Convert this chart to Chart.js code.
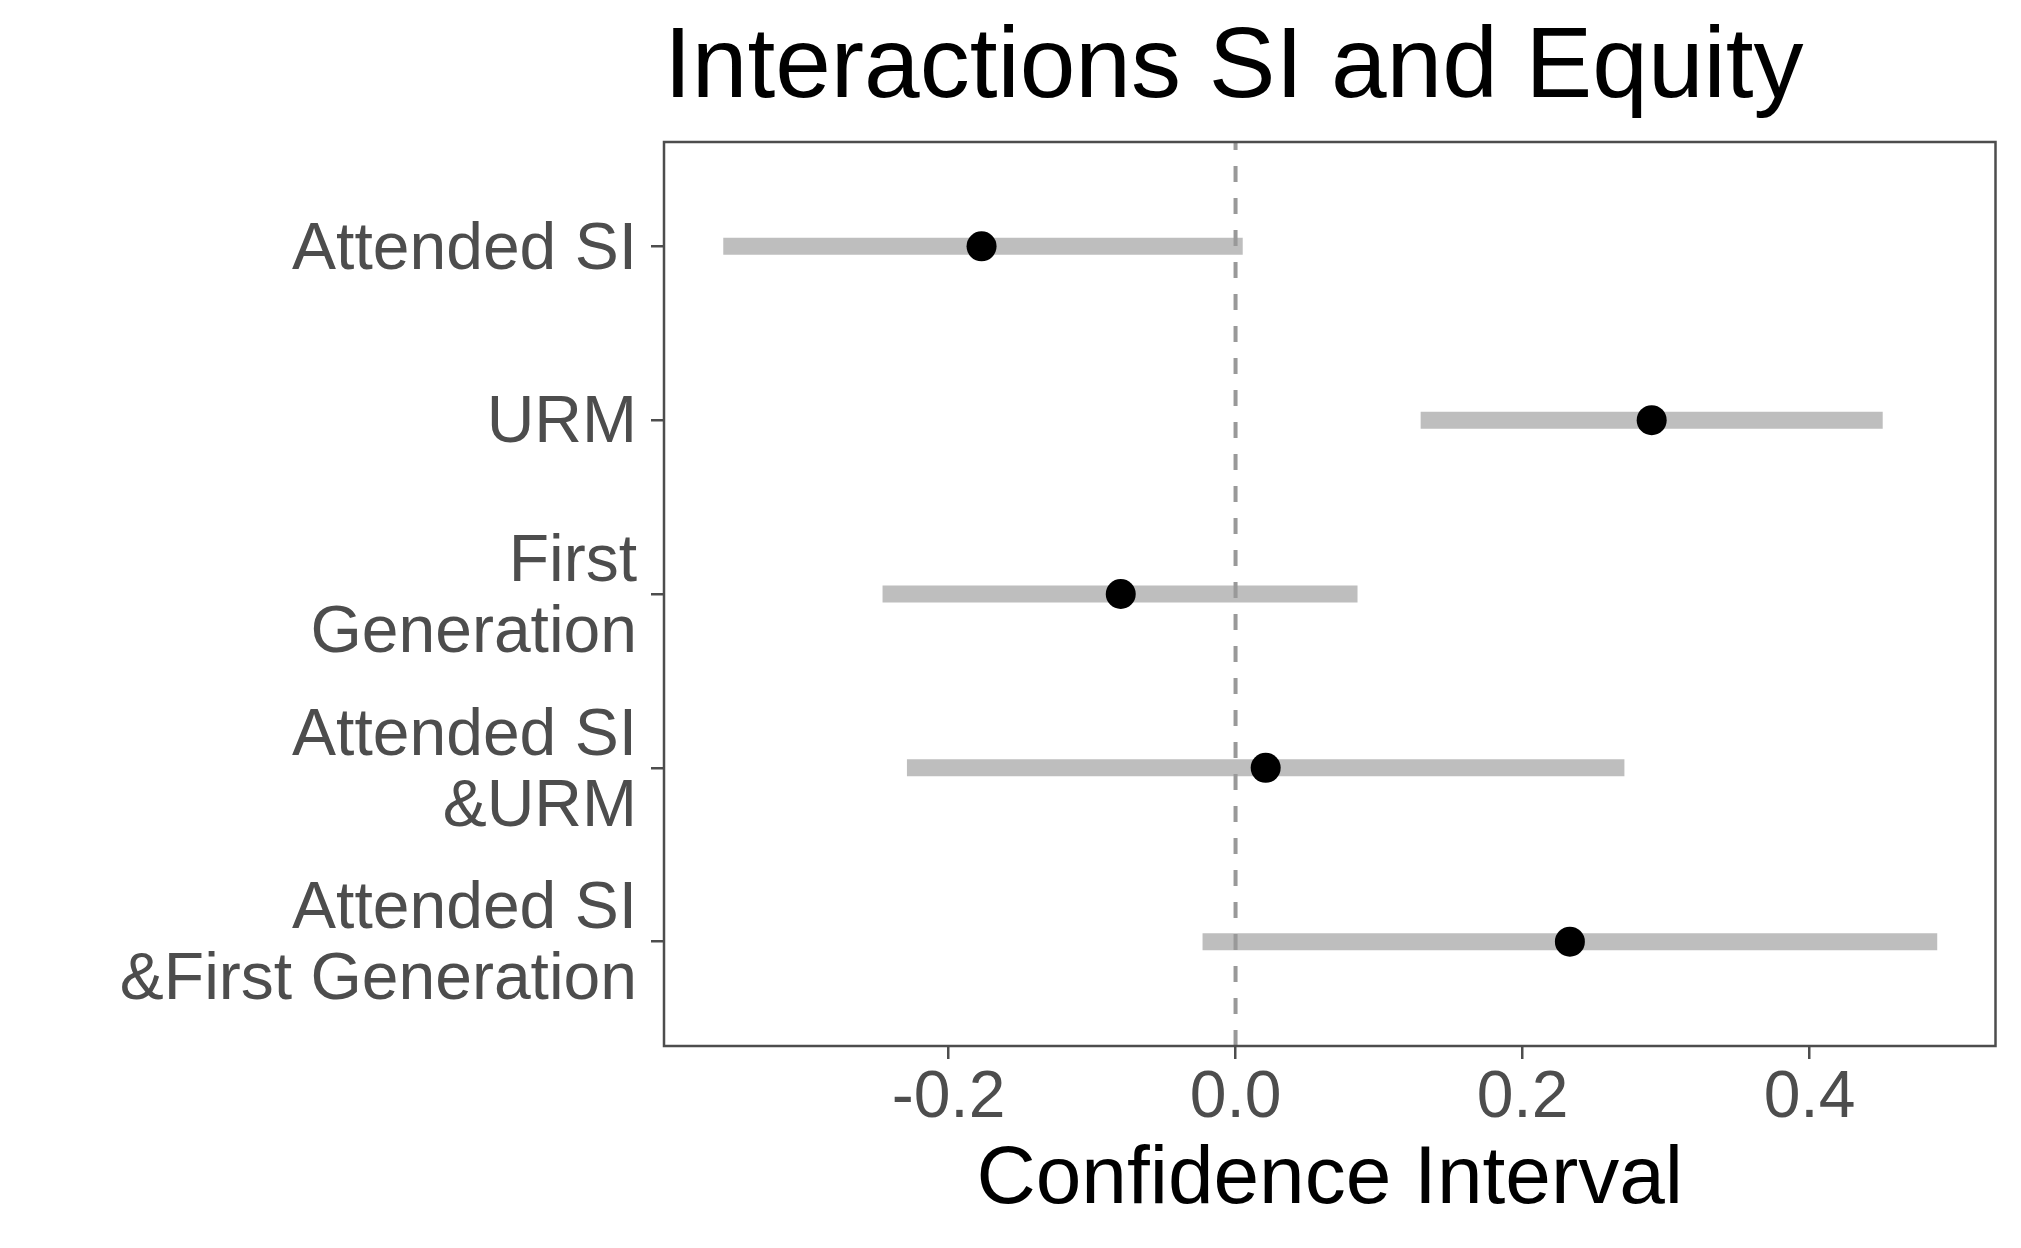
<!DOCTYPE html>
<html>
<head>
<meta charset="utf-8">
<script src="https://cdn.jsdelivr.net/npm/chart.js@4.4.0/dist/chart.umd.min.js"></script>
<style>
  html, body { margin: 0; padding: 0; background: #fff; }
  #wrap { width: 2021px; height: 1248px; }
</style>
</head>
<body>
<div id="wrap"><canvas id="ciChart" width="2021" height="1248"></canvas></div>
<script>
// values
const categories = [
    'Attended SI',
    'URM',
    ['First', 'Generation'],
    ['Attended SI', '&URM'],
    ['Attended SI', '&First Generation']
];
const estimate = [-0.177, 0.290, -0.080, 0.021, 0.233];
const lower = [-0.357, 0.129, -0.246, -0.229, -0.023];
const upper = [0.005, 0.451, 0.085, 0.271, 0.489];
const xTicks = [-0.2, 0.0, 0.2, 0.4];

Chart.defaults.font.family = "'Liberation Sans', Arial, sans-serif";

var datasets = [];
for (var i = 0; i < categories.length; i++) {
    datasets.push({
        type: 'line',
        data: [{ x: lower[i], y: i + 1 }, { x: upper[i], y: i + 1 }],
        borderColor: '#BEBEBE',
        borderWidth: 17,
        borderCapStyle: 'butt',
        pointRadius: 0,
        order: 2
    });
}
datasets.push({
    type: 'scatter',
    data: estimate.map((v, i) => ({ x: v, y: i + 1 })),
    backgroundColor: '#000000',
    borderWidth: 0,
    pointRadius: 15,
    order: 1
});

// dashed reference line at zero and the panel frame
const extras = {
    id: 'extras',
    afterDatasetsDraw(chart) {
        const ctx = chart.ctx;
        const area = chart.chartArea;
        const x0 = chart.scales.x.getPixelForValue(0);
        ctx.save();
        ctx.strokeStyle = '#999999';
        ctx.lineWidth = 4;
        ctx.setLineDash([16, 16]);
        ctx.lineDashOffset = 8;
        ctx.beginPath();
        ctx.moveTo(x0, area.top);
        ctx.lineTo(x0, area.bottom);
        ctx.stroke();
        ctx.restore();
    },
    afterDraw(chart) {
        const ctx = chart.ctx;
        const a = chart.chartArea;
        ctx.save();
        ctx.strokeStyle = '#4D4D4D';
        ctx.lineWidth = 2.5;
        ctx.strokeRect(a.left, a.top, a.right - a.left, a.bottom - a.top);
        ctx.restore();
    }
};

new Chart(document.getElementById('ciChart'), {
    type: 'line',
    data: { datasets: datasets },
    plugins: [extras],
    options: {
        responsive: false,
        animation: false,
        devicePixelRatio: 1,
        layout: { padding: { left: 0, right: 25.5, top: 0, bottom: 0 } },
        plugins: {
            legend: { display: false },
            tooltip: { enabled: false },
            title: {
                display: true,
                text: 'Interactions SI and Equity',
                align: 'start',
                fullSize: false,
                color: '#000000',
                font: { size: 100, weight: 'normal', lineHeight: 1.2 },
                padding: { top: 9, bottom: 13 }
            }
        },
        scales: {
            x: {
                type: 'linear',
                min: -0.3983,
                max: 0.5296,
                afterBuildTicks: (scale) => { scale.ticks = xTicks.map(v => ({ value: v })); },
                afterFit: (scale) => { scale.height = 202; },
                grid: { display: true, drawOnChartArea: false, drawTicks: true, tickLength: 13, color: '#4D4D4D', lineWidth: 2.5 },
                border: { display: false },
                ticks: {
                    color: '#4D4D4D',
                    padding: 7,
                    maxRotation: 0,
                    font: { size: 66, lineHeight: 1.0 },
                    callback: (v) => Number(v).toFixed(1)
                },
                title: {
                    display: true,
                    text: 'Confidence Interval',
                    color: '#000000',
                    font: { size: 82, lineHeight: 1.2 },
                    padding: { top: 0, bottom: 18 }
                }
            },
            y: {
                type: 'linear',
                min: 0.4,
                max: 5.6,
                reverse: true,
                afterBuildTicks: (scale) => { scale.ticks = categories.map((c, i) => ({ value: i + 1 })); },
                afterFit: (scale) => { scale.width = 664; },
                grid: { display: true, drawOnChartArea: false, drawTicks: true, tickLength: 13, color: '#4D4D4D', lineWidth: 2.5 },
                border: { display: false },
                ticks: {
                    color: '#4D4D4D',
                    padding: 14,
                    labelOffset: 4,
                    font: { size: 66, lineHeight: 1.076 },
                    callback: (v) => categories[Math.round(v) - 1]
                }
            }
        }
    }
});
</script>
</body>
</html>
